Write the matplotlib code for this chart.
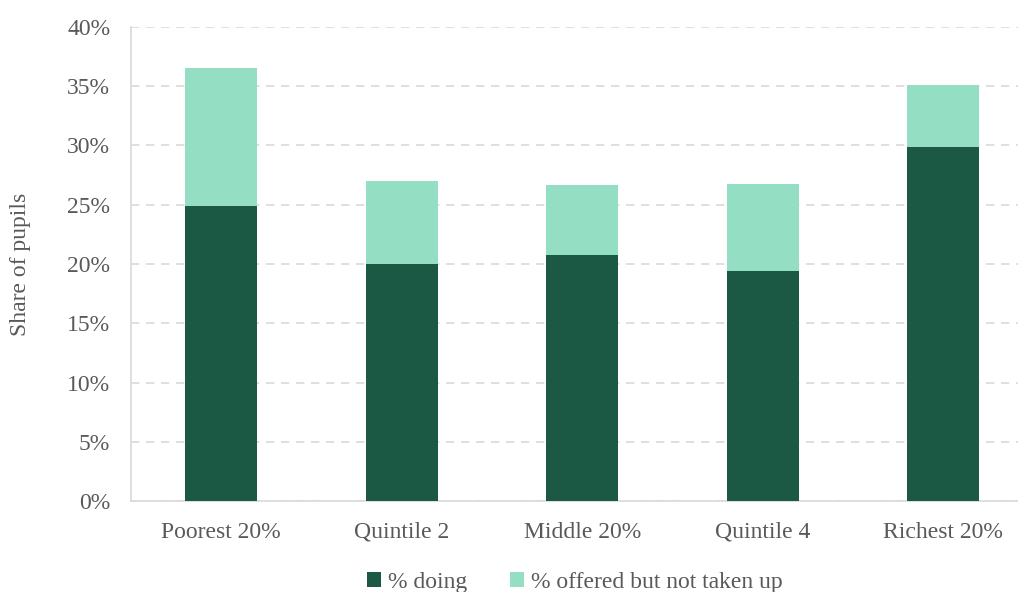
import numpy as np
import matplotlib as mpl
import matplotlib.pyplot as plt
from matplotlib.ticker import PercentFormatter

groups = ['Poorest 20%', 'Quintile 2', 'Middle 20%', 'Quintile 4', 'Richest 20%']
doing = [24.9, 20.0, 20.8, 19.4, 29.9]
offered = [11.6, 7.0, 5.9, 7.35, 5.2]

mpl.rcParams['font.family'] = ['Liberation Serif', 'DejaVu Serif']
grey = '#595959'
dark = '#1c5945'
light = '#94dfc4'

fig = plt.figure(figsize=(10.18, 5.92), dpi=100)
ax = fig.add_axes([0.1287, 0.1537, 0.8713, 0.8007])

x = np.arange(len(groups))
ax.bar(x, doing, width=0.4, color=dark, label='% doing', zorder=3)
ax.bar(x, offered, width=0.4, bottom=doing, color=light,
       label='% offered but not taken up', zorder=3)

ax.set_ylim(0, 40)
ax.set_xlim(-0.5, 4.414)
ax.set_yticks(np.arange(0, 41, 5))
ax.yaxis.set_major_formatter(PercentFormatter(decimals=0))
ax.set_xticks(x)
ax.set_xticklabels(groups)
ax.tick_params(axis='both', length=0, labelsize=17, colors=grey)
ax.tick_params(axis='x', pad=15)
ax.tick_params(axis='y', pad=15)
ax.yaxis.grid(True, color='#d9d9d9', linestyle=(0, (5, 4)), linewidth=1.2, zorder=0)

for s in ['top', 'right']:
    ax.spines[s].set_visible(False)
for s in ['left', 'bottom']:
    ax.spines[s].set_color('#d9d9d9')
    ax.spines[s].set_linewidth(1.2)

ax.set_ylabel('Share of pupils', fontsize=17, color=grey)
ax.yaxis.set_label_coords(-0.113, 0.5)

ax.legend(loc='center', bbox_to_anchor=(0.5, -0.172), ncol=2, frameon=False,
          fontsize=17, labelcolor=grey, handlelength=0.6, handleheight=0.6,
          handletextpad=0.3, columnspacing=1.8, borderpad=0)

fig.savefig('out.png', dpi=100)
